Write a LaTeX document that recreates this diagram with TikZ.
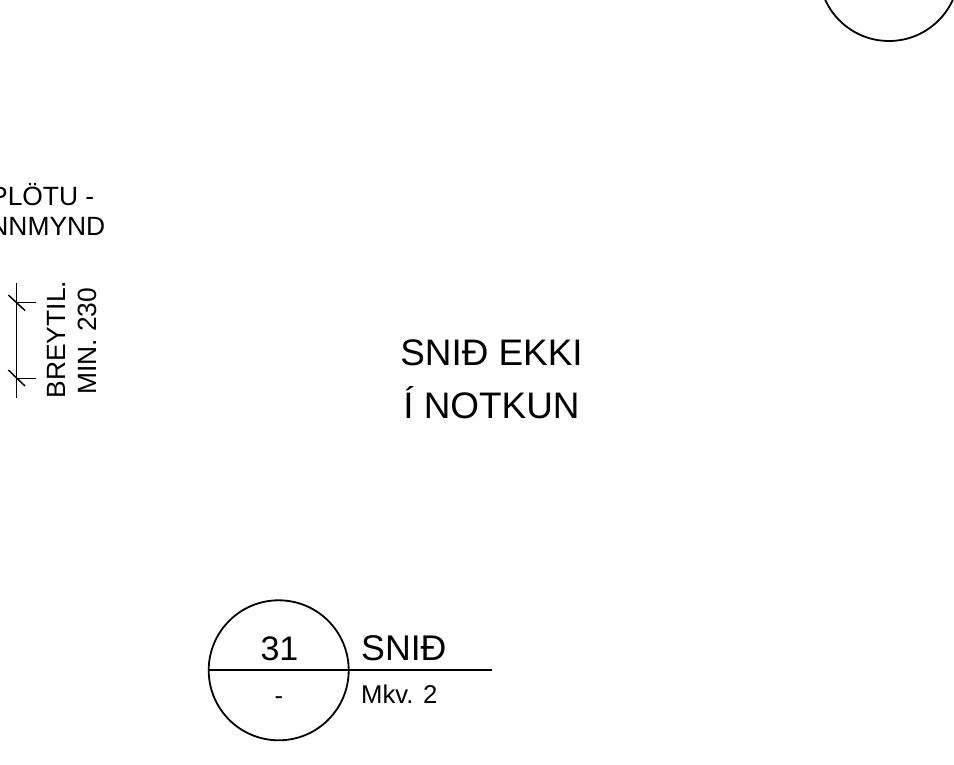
\documentclass[tikz,border=0pt]{standalone}
\usepackage{fontspec}
\setmainfont{Liberation Sans}
\tikzset{
  ln/.style={draw=black,line width=1.8pt},
  thin ln/.style={draw=black,line width=1.5pt},
  big/.style={font=\fontsize{36.9}{42}\selectfont,inner sep=0pt,align=center},
  mid/.style={font=\fontsize{26.4}{30}\selectfont,inner sep=0pt},
  small/.style={font=\fontsize{25.7}{30}\selectfont,inner sep=0pt},
  bignum/.style={font=\fontsize{34}{40}\selectfont,inner sep=0pt},
  bigtitle/.style={font=\fontsize{35.7}{40}\selectfont,inner sep=0pt},
}
\begin{document}
\begin{tikzpicture}[x=1pt,y=-1pt]
\useasboundingbox (0,0) rectangle (954,765);
% top-right circle (cut by the page edge)
\node[circle,ln,minimum size=140pt,inner sep=0pt] (topc) at (889,-29) {};
% view symbol
\node[circle,ln,minimum size=140pt,inner sep=0pt] (symc) at (278.7,670.3) {};
\coordinate (ruleend) at (492,670.3);
\draw[ln] (symc.west) -- (ruleend);
\node[bignum,anchor=base] (num) at (279.5,660) {31};
\node[small,anchor=base] (dash) at (279,704) {-};
\node[bigtitle,anchor=base west] (snid) at (361,660) {SNIÐ};
\node[small,anchor=base west] (mkv) at (361,703) {Mkv. 2};
% main label
\node[big,anchor=base] (l1) at (491.5,365) {SNIÐ EKKI};
\node[big,anchor=base] (l2) at (491.5,418) {Í NOTKUN};
% text cut by the page edge
\node[mid,anchor=base east] (n1) at (94.5,206) {PLÖTU -};
\node[mid,anchor=base east] (n2) at (105.5,236) {NNMYND};
\node[mid,anchor=base east] (n3) at (2,519) {G};
% dimension
\coordinate (dt) at (16.7,283);
\coordinate (db) at (16.7,397.5);
\coordinate (e1) at (36,302.3);
\coordinate (e2) at (36,378.3);
\coordinate (e1s) at (16.7,302.3);
\coordinate (e2s) at (16.7,378.3);
\coordinate (t1a) at (8.3,295);
\coordinate (t1b) at (25,310.5);
\coordinate (t2a) at (8.3,370);
\coordinate (t2b) at (25,386);
\draw[thin ln] (dt) -- (db);
\draw[thin ln] (e1s) -- (e1);
\draw[thin ln] (e2s) -- (e2);
\draw[thin ln] (t1a) -- (t1b);
\draw[thin ln] (t2a) -- (t2b);
\node[mid,rotate=90,anchor=base west] (br) at (65,398.5) {BREYTIL.};
\node[mid,rotate=90,anchor=base west] (mi) at (96.5,395) {MIN. 230};
\end{tikzpicture}
\end{document}
